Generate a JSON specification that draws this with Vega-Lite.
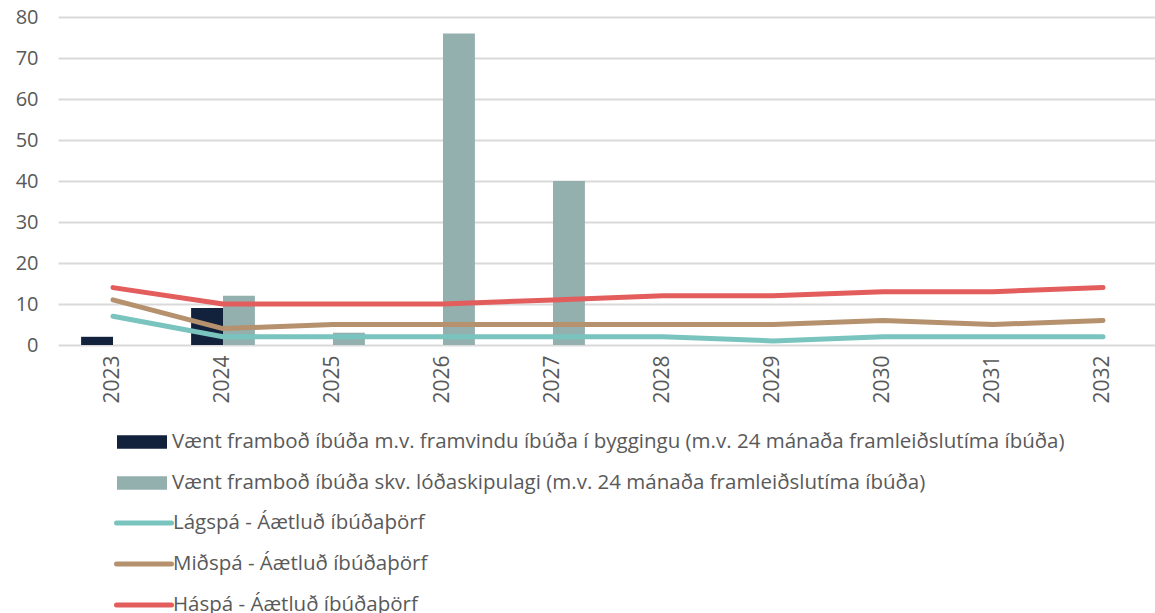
{
  "$schema": "https://vega.github.io/schema/vega-lite/v6.json",
  "autosize": "none",
  "width": 1100,
  "height": 328,
  "padding": {"left": 58, "top": 17, "right": 0, "bottom": 268},
  "background": "white",
  "config": {
    "view": {"stroke": null},
    "font": "Open Sans",
    "axis": {"labelColor": "#595959", "labelFont": "Open Sans", "domain": false, "ticks": false, "title": null},
    "legend": {"labelFont": "Open Sans", "labelFontSize": 20.5, "labelColor": "#595959", "title": null, "orient": "none", "labelLimit": 1100}
  },
  "data": {
    "values": [
      {"year": "2023", "series": "Vænt framboð íbúða m.v. framvindu íbúða í byggingu (m.v. 24 mánaða framleiðslutíma íbúða)", "kind": "bar", "value": 2},
      {"year": "2024", "series": "Vænt framboð íbúða m.v. framvindu íbúða í byggingu (m.v. 24 mánaða framleiðslutíma íbúða)", "kind": "bar", "value": 9},
      {"year": "2024", "series": "Vænt framboð íbúða skv. lóðaskipulagi (m.v. 24 mánaða framleiðslutíma íbúða)", "kind": "bar", "value": 12},
      {"year": "2025", "series": "Vænt framboð íbúða skv. lóðaskipulagi (m.v. 24 mánaða framleiðslutíma íbúða)", "kind": "bar", "value": 3},
      {"year": "2026", "series": "Vænt framboð íbúða skv. lóðaskipulagi (m.v. 24 mánaða framleiðslutíma íbúða)", "kind": "bar", "value": 76},
      {"year": "2027", "series": "Vænt framboð íbúða skv. lóðaskipulagi (m.v. 24 mánaða framleiðslutíma íbúða)", "kind": "bar", "value": 40},
      {"year": "2023", "series": "Lágspá - Áætluð íbúðaþörf", "kind": "line", "value": 7},
      {"year": "2024", "series": "Lágspá - Áætluð íbúðaþörf", "kind": "line", "value": 2},
      {"year": "2025", "series": "Lágspá - Áætluð íbúðaþörf", "kind": "line", "value": 2},
      {"year": "2026", "series": "Lágspá - Áætluð íbúðaþörf", "kind": "line", "value": 2},
      {"year": "2027", "series": "Lágspá - Áætluð íbúðaþörf", "kind": "line", "value": 2},
      {"year": "2028", "series": "Lágspá - Áætluð íbúðaþörf", "kind": "line", "value": 2},
      {"year": "2029", "series": "Lágspá - Áætluð íbúðaþörf", "kind": "line", "value": 1},
      {"year": "2030", "series": "Lágspá - Áætluð íbúðaþörf", "kind": "line", "value": 2},
      {"year": "2031", "series": "Lágspá - Áætluð íbúðaþörf", "kind": "line", "value": 2},
      {"year": "2032", "series": "Lágspá - Áætluð íbúðaþörf", "kind": "line", "value": 2},
      {"year": "2023", "series": "Miðspá - Áætluð íbúðaþörf", "kind": "line", "value": 11},
      {"year": "2024", "series": "Miðspá - Áætluð íbúðaþörf", "kind": "line", "value": 4},
      {"year": "2025", "series": "Miðspá - Áætluð íbúðaþörf", "kind": "line", "value": 5},
      {"year": "2026", "series": "Miðspá - Áætluð íbúðaþörf", "kind": "line", "value": 5},
      {"year": "2027", "series": "Miðspá - Áætluð íbúðaþörf", "kind": "line", "value": 5},
      {"year": "2028", "series": "Miðspá - Áætluð íbúðaþörf", "kind": "line", "value": 5},
      {"year": "2029", "series": "Miðspá - Áætluð íbúðaþörf", "kind": "line", "value": 5},
      {"year": "2030", "series": "Miðspá - Áætluð íbúðaþörf", "kind": "line", "value": 6},
      {"year": "2031", "series": "Miðspá - Áætluð íbúðaþörf", "kind": "line", "value": 5},
      {"year": "2032", "series": "Miðspá - Áætluð íbúðaþörf", "kind": "line", "value": 6},
      {"year": "2023", "series": "Háspá - Áætluð íbúðaþörf", "kind": "line", "value": 14},
      {"year": "2024", "series": "Háspá - Áætluð íbúðaþörf", "kind": "line", "value": 10},
      {"year": "2025", "series": "Háspá - Áætluð íbúðaþörf", "kind": "line", "value": 10},
      {"year": "2026", "series": "Háspá - Áætluð íbúðaþörf", "kind": "line", "value": 10},
      {"year": "2027", "series": "Háspá - Áætluð íbúðaþörf", "kind": "line", "value": 11},
      {"year": "2028", "series": "Háspá - Áætluð íbúðaþörf", "kind": "line", "value": 12},
      {"year": "2029", "series": "Háspá - Áætluð íbúðaþörf", "kind": "line", "value": 12},
      {"year": "2030", "series": "Háspá - Áætluð íbúðaþörf", "kind": "line", "value": 13},
      {"year": "2031", "series": "Háspá - Áætluð íbúðaþörf", "kind": "line", "value": 13},
      {"year": "2032", "series": "Háspá - Áætluð íbúðaþörf", "kind": "line", "value": 14}
    ]
  },
  "encoding": {
    "x": {
      "field": "year", "type": "nominal",
      "scale": {"domain": ["2023","2024","2025","2026","2027","2028","2029","2030","2031","2032"], "paddingInner": 0.42, "paddingOuter": 0.21},
      "axis": {"labelAngle": -90, "labelFontSize": 21, "labelPadding": 10, "grid": false}
    },
    "y": {
      "field": "value", "type": "quantitative",
      "scale": {"domain": [0, 80], "nice": false},
      "axis": {"values": [0,10,20,30,40,50,60,70,80], "labelFontSize": 20, "labelPadding": 20, "grid": true, "gridColor": "#d9d9d9", "gridWidth": 2}
    }
  },
  "layer": [
    {
      "transform": [{"filter": "datum.kind === 'bar'"}],
      "mark": {"type": "bar"},
      "encoding": {
        "xOffset": {"field": "series", "type": "nominal", "scale": {"domain": ["Vænt framboð íbúða m.v. framvindu íbúða í byggingu (m.v. 24 mánaða framleiðslutíma íbúða)", "Vænt framboð íbúða skv. lóðaskipulagi (m.v. 24 mánaða framleiðslutíma íbúða)"], "paddingInner": 0, "paddingOuter": 0}},
        "fill": {
          "field": "series", "type": "nominal",
          "scale": {"domain": ["Vænt framboð íbúða m.v. framvindu íbúða í byggingu (m.v. 24 mánaða framleiðslutíma íbúða)", "Vænt framboð íbúða skv. lóðaskipulagi (m.v. 24 mánaða framleiðslutíma íbúða)"], "range": ["#13223c", "#93afae"]},
          "legend": {"legendX": 59, "legendY": 400, "direction": "vertical", "symbolType": "M-1,-0.27H1V0.27H-1Z", "symbolSize": 2500, "symbolStrokeWidth": 0, "labelOffset": 5, "rowPadding": 5}
        }
      }
    },
    {
      "transform": [{"filter": "datum.kind === 'line'"}],
      "mark": {"type": "line", "strokeWidth": 5, "strokeCap": "round", "strokeJoin": "round"},
      "encoding": {
        "detail": {"field": "series", "type": "nominal"},
        "stroke": {
          "field": "series", "type": "nominal",
          "scale": {"domain": ["Lágspá - Áætluð íbúðaþörf", "Miðspá - Áætluð íbúðaþörf", "Háspá - Áætluð íbúðaþörf"], "range": ["#7ac4bf", "#b5916e", "#e35d5d"]},
          "legend": {"legendX": 56, "legendY": 476, "direction": "vertical", "symbolType": "stroke", "symbolSize": 3025, "symbolStrokeWidth": 5, "labelOffset": -1, "rowPadding": 0, "encode": {"symbols": {"update": {"strokeCap": {"value": "round"}}}}}
        }
      }
    }
  ]
}
